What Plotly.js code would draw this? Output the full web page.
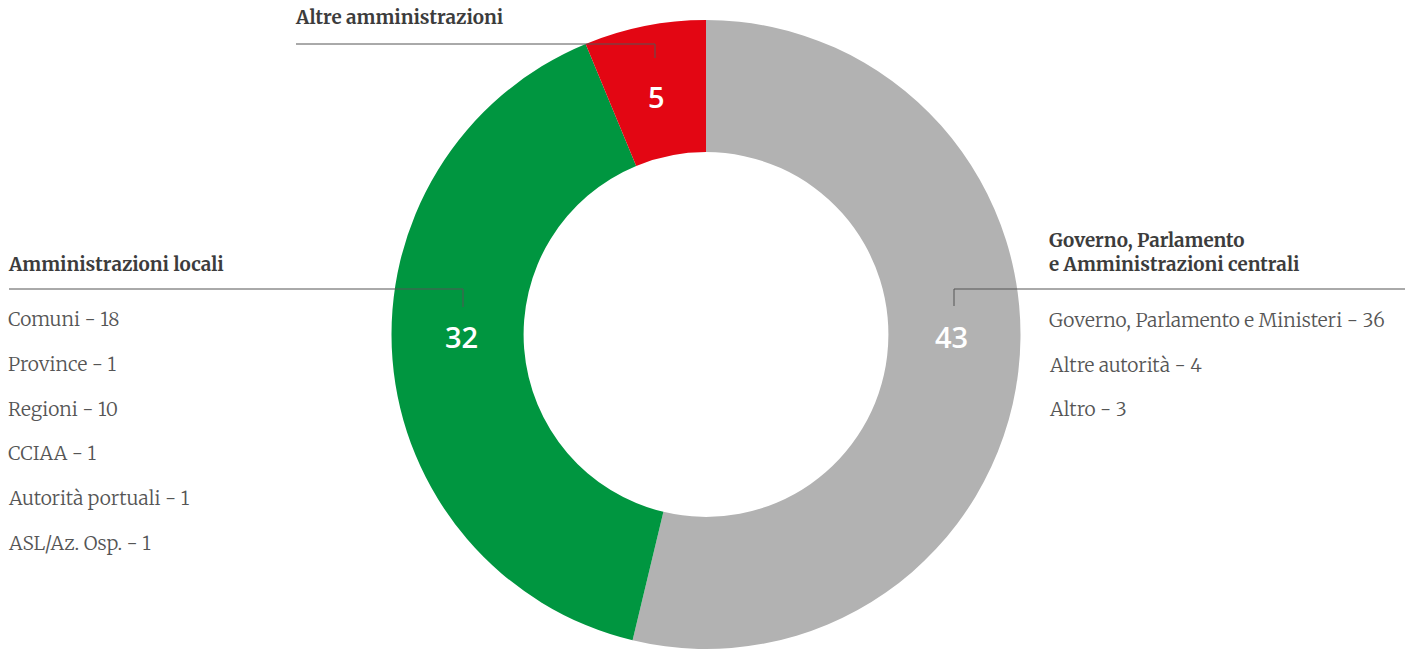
<!DOCTYPE html>
<html><head><meta charset="utf-8">
<script src="https://cdn.plot.ly/plotly-3.0.1.min.js"></script>
<style>html,body{margin:0;padding:0;background:#fff}#chart{width:1405px;height:649px}</style>
</head><body><div id="chart"></div>
<script>
var categories = ["Governo, Parlamento e Amministrazioni centrali", "Amministrazioni locali", "Altre amministrazioni"];
var values = [43, 32, 5];
var localLabels = ["Comuni", "Province", "Regioni", "CCIAA", "Autorità portuali", "ASL/Az. Osp."];
var localValues = [18, 1, 10, 1, 1, 1];
var centralLabels = ["Governo, Parlamento e Ministeri", "Altre autorità", "Altro"];
var centralValues = [36, 4, 3];

var W = 1405, H = 649;
function py(p){ return 1 - p / H; }
function px(p){ return p / W; }

var cx = 706, cy = 335, R = 315;
var trace = {
  type: 'pie',
  values: values,
  labels: categories,
  sort: false,
  direction: 'clockwise',
  rotation: 0,
  hole: 0.58,
  textinfo: 'none',
  hoverinfo: 'label+value',
  marker: {colors: ['#b2b2b2', '#009640', '#e30613'], line: {width: 0}},
  domain: {x: [px(cx - R), px(cx + R)], y: [py(cy + R), py(cy - R)]},
  showlegend: false
};

var serif = 'Merriweather, "DejaVu Serif", serif';
var ann = [];
function txt(x, y, t, bold, size, color){
  ann.push({xref:'paper', yref:'paper', x:px(x), y:py(y), xanchor:'left', yanchor:'middle',
    text:t, showarrow:false, align:'left',
    font:{family:serif, size:size, color:color, weight: bold ? 700 : 300}});
}
var FSB = 18.8, FS = 19.2;
// group headers
txt(293, 18, categories[2], true, FSB, '#3c3c3c');
txt(6, 264, categories[1], true, FSB, '#3c3c3c');
ann.push({xref:'paper', yref:'paper', x:px(1047), y:py(252), xanchor:'left', yanchor:'middle',
  text:'Governo, Parlamento<br>e Amministrazioni centrali', showarrow:false, align:'left',
  font:{family:serif, size:FSB, color:'#3c3c3c', weight:700}});
// sub items
for (var i = 0; i < localLabels.length; i++) {
  txt(6, 319 + i * 44.8, localLabels[i] + ' - ' + localValues[i], false, FS, '#555555');
}
for (var j = 0; j < centralLabels.length; j++) {
  txt(1047, 320 + j * 44.5, centralLabels[j] + ' - ' + centralValues[j], false, FS, '#555555');
}
// slice values
var numPos = [[951, 336], [461, 336], [656, 96]];
for (var k = 0; k < values.length; k++) {
  ann.push({xref:'paper', yref:'paper', x:px(numPos[k][0]), y:py(numPos[k][1]), xanchor:'center', yanchor:'middle',
    text:String(values[k]), showarrow:false,
    font:{family:'"Open Sans", sans-serif', size:29, color:'#ffffff', weight:600}});
}

var lc = {color:'#555555', width:1};
var shapes = [
  {type:'path', xref:'paper', yref:'paper', path:'M '+px(9)+' '+py(289)+' L '+px(463)+' '+py(289)+' L '+px(463)+' '+py(307), line:lc},
  {type:'path', xref:'paper', yref:'paper', path:'M '+px(1405)+' '+py(289)+' L '+px(954)+' '+py(289)+' L '+px(954)+' '+py(306), line:lc},
  {type:'path', xref:'paper', yref:'paper', path:'M '+px(296)+' '+py(44)+' L '+px(655)+' '+py(44)+' L '+px(655)+' '+py(58), line:lc}
];

var layout = {
  width: W, height: H,
  margin: {l:0, r:0, t:0, b:0},
  paper_bgcolor: '#ffffff',
  plot_bgcolor: '#ffffff',
  showlegend: false,
  annotations: ann,
  shapes: shapes
};
Plotly.newPlot('chart', [trace], layout, {displayModeBar:false, staticPlot:true});
</script></body></html>
